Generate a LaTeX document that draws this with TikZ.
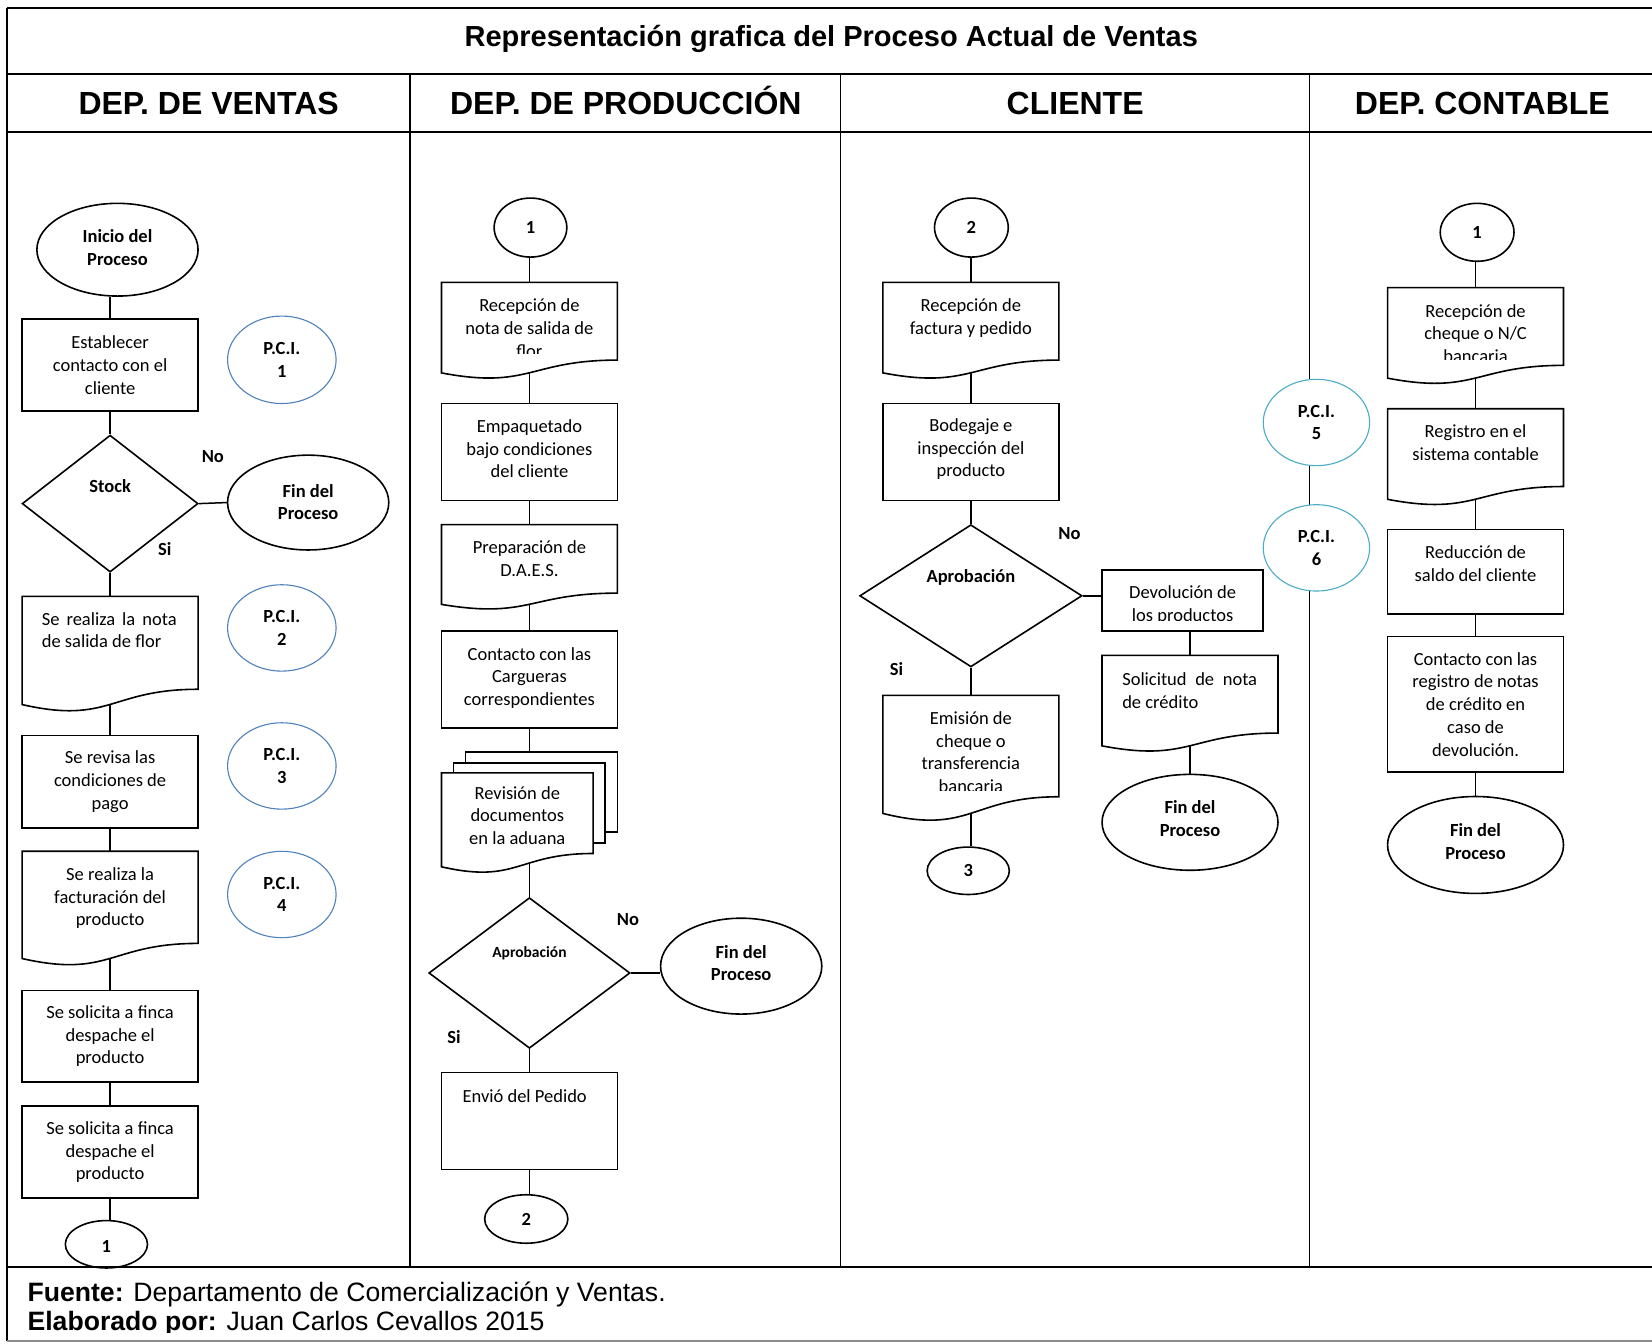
\documentclass[tikz,border=0pt]{standalone}
\usepackage{fontspec}
\setmainfont{Carlito}
\newfontfamily\arialfont{Liberation Sans}
\usetikzlibrary{shapes.geometric,calc}

\definecolor{pciblue}{RGB}{79,129,189}
\definecolor{pciteal}{RGB}{75,172,198}

% one drawing unit = 1.0536pt
\newcommand{\pxu}{1.0536pt}
\newcommand{\ntxt}{\fontsize{18.5}{22.7}\selectfont}
\newcommand{\ntxtb}{\fontsize{18.5}{22.7}\selectfont\bfseries}

% document symbol: name, left x, top y, width, height
\newcommand{\docshape}[5]{%
  \node[inner sep=0, minimum width=#4*\pxu, minimum height=#5*\pxu] (#1) at ({#2+#4/2},{#3+#5/2}) {};
  \draw[shapeline] (#2,#3) -- ({#2+#4},#3) -- ({#2+#4},{#3+0.802*#5})
    .. controls ({#2+#4/2},{#3+0.802*#5}) and ({#2+#4/2},{#3+1.107*#5}) .. (#2,{#3+0.934*#5}) -- cycle;
  \coordinate (#1-b) at ({#2+#4/2},{#3+0.933*#5});
}

\tikzset{
  frameline/.style={line width=2pt},
  lane/.style={line width=1.4pt},
  link/.style={line width=1.5pt},
  shapeline/.style={line width=1.6pt},
  proc/.style={draw, rectangle, line width=1.6pt, inner sep=0, align=center, font=\ntxt},
  term/.style={draw, ellipse, line width=1.6pt, inner sep=0, align=center, font=\ntxtb},
  pci/.style={draw=#1, ellipse, line width=1.1pt, fill=white, inner sep=0, align=center, font=\ntxtb},
  decision/.style={draw, diamond, line width=1.6pt, inner sep=0},
  lbl/.style={inner sep=0, align=center, font=\ntxtb},
  txtnode/.style={inner sep=0, align=center, font=\ntxt},
  sz/.style 2 args={minimum width=#1*\pxu, minimum height=#2*\pxu},
}

\begin{document}
\begin{tikzpicture}[x=1.0536pt, y=-1.0536pt]
\useasboundingbox (0,0) rectangle (1568,1275);

% ---------- frame, title and lanes ----------
\draw[frameline] (7,8) -- (1575,8);
\draw[frameline] (7,8) -- (7,1273);
\draw[frameline] (7,70) -- (1575,70);
\draw[frameline] (7,125) -- (1575,125);
\draw[frameline] (7,1203) -- (1575,1203);
\draw[line width=1.6pt, black!45] (7,1273) -- (1575,1273);
\draw[lane] (389,70) -- (389,1203);
\draw[lane] (798,70) -- (798,1203);
\draw[lane] (1243,70) -- (1243,1203);

\node[inner sep=0, anchor=base, font=\arialfont\bfseries\fontsize{29}{34}\selectfont] (title) at (789,44.5)
  {Representación grafica del Proceso Actual de Ventas};
\tikzset{lanehead/.style={inner sep=0, anchor=base, font=\arialfont\bfseries\fontsize{32}{38}\selectfont}}
\node[lanehead] (h1) at (198,108.4) {DEP. DE VENTAS};
\node[lanehead] (h2) at (594,108.4) {DEP. DE PRODUCCIÓN};
\node[lanehead] (h3) at (1020.5,108.4) {CLIENTE};
\node[lanehead] (h4) at (1407,108.4) {DEP. CONTABLE};

% ---------- DEP. DE VENTAS ----------
\node[term, sz={153}{88}] (e_ini) at (111.5,237) {};
\node[lbl] (t_ini) at (111.5,235) {Inicio del\\Proceso};
\node[proc, sz={167}{87}] (r_est) at (104.5,346.5) {Establecer\\contacto con el\\cliente};
\node[pci=pciblue, sz={103}{83}] (pci1) at (267.5,341.5) {P.C.I.\\1};
\node[decision, sz={167}{130}] (d_stock) at (104.5,478) {};
\node[lbl] (t_stock) at (104.5,461) {Stock};
\node[lbl] (no1) at (202,433) {No};
\node[lbl] (si1) at (156.5,521) {Si};
\node[term, sz={153}{90}] (e_fin1) at (292.5,477) {};
\node[lbl] (t_fin1) at (292.5,476.5) {Fin del\\Proceso};
\docshape{doc_nota}{21}{566}{167}{110}
\node[txtnode, align=left, anchor=west] (t_nota) at (39.5,598)
  {\makebox[134.9pt][s]{Se realiza la nota}\\de salida de flor};
\node[pci=pciblue, sz={103}{82}] (pci2) at (267.5,596) {P.C.I.\\2};
\node[proc, sz={167}{88}] (r_rev) at (104.5,742) {Se revisa las\\condiciones de\\pago};
\node[pci=pciblue, sz={103}{82}] (pci3) at (267.5,727) {P.C.I.\\3};
\docshape{doc_fact}{21}{808}{167}{109}
\node[txtnode] (t_fact) at (104.5,852.5) {Se realiza la\\facturación del\\producto};
\node[pci=pciblue, sz={103}{82}] (pci4) at (267.5,849) {P.C.I.\\4};
\node[proc, sz={167}{87}] (r_fin1) at (104.5,983.5) {Se solicita a finca\\despache el\\producto};
\node[proc, sz={167}{87}] (r_fin2) at (104.5,1093.5) {Se solicita a finca\\despache el\\producto};
\node[term, sz={78}{45}] (c1a) at (101,1181) {};
\node[lbl] (t_c1a) at (101,1183) {1};

\draw[link] (r_est.north) -- (r_est.north |- e_ini.south);
\draw[link] (r_est.south) -- (d_stock.north);
\draw[link] (d_stock.east) -- (e_fin1.west);
\draw[link] (d_stock.south) -- (doc_nota.north);
\draw[link] (doc_nota-b) -- (r_rev.north);
\draw[link] (r_rev.south) -- (doc_fact.north);
\draw[link] (doc_fact-b) -- (r_fin1.north);
\draw[link] (r_fin1.south) -- (r_fin2.north);
\draw[link] (r_fin2.south) -- (r_fin2.south |- c1a.north);

% ---------- DEP. DE PRODUCCION ----------
\node[term, sz={69}{56}] (c1b) at (503.5,216) {1};
\docshape{doc_rec1}{419}{268}{167}{92}
\begin{scope}
  \clip (419,268) rectangle (586,335.5);
  \node[txtnode] (t_rec1) at (502.5,311.5) {Recepción de\\nota de salida de\\flor};
\end{scope}
\node[proc, sz={167}{92}] (r_emp) at (502.5,429) {};
\node[txtnode] (t_emp) at (502.5,426) {Empaquetado\\bajo condiciones\\del cliente};
\docshape{doc_daes}{419}{498}{167}{81}
\node[txtnode] (t_daes) at (502.5,530) {Preparación de\\D.A.E.S.};
\node[proc, sz={167}{92}] (r_car) at (502.5,645) {};
\node[txtnode] (t_car) at (502.5,643.5) {Contacto con las\\Cargueras\\correspondientes};
% stacked documents
\coordinate (md-in) at (502.5,714);
\draw[shapeline] (442,724) -- (442,714) -- (586,714) -- (586,789.5) -- (574,789.5);
\draw[shapeline] (430.5,733.5) -- (430.5,724) -- (574,724) -- (574,800) -- (563,800);
\docshape{md1}{419}{733.5}{144}{95.5}
\coordinate (md-out) at (502.5,819.3);
\node[txtnode] (t_md) at (491,774) {Revisión de\\documentos\\en la aduana};
\node[decision, sz={191}{143}] (d_apr2) at (502.5,923.5) {};
\node[inner sep=0, font=\fontsize{15.5}{19}\selectfont\bfseries] (t_apr2) at (502.5,905) {Aprobación};
\node[lbl] (no2) at (596,873) {No};
\node[lbl] (si2) at (431,984) {Si};
\node[term, sz={153}{91}] (e_fin2) at (703.5,917) {};
\node[lbl] (t_fin2) at (703.5,914) {Fin del\\Proceso};
\node[proc, sz={167}{92}] (r_env) at (502.5,1064) {};
\node[txtnode] (t_env) at (498,1040) {Envió del Pedido};
\node[term, sz={79}{46}] (c2a) at (499.5,1157) {2};

\draw[link] (doc_rec1.north) -- (doc_rec1.north |- c1b.south);
\draw[link] (doc_rec1-b) -- (r_emp.north);
\draw[link] (r_emp.south) -- (doc_daes.north);
\draw[link] (doc_daes-b) -- (r_car.north);
\draw[link] (r_car.south) -- (md-in);
\draw[link] (md-out) -- (d_apr2.north);
\draw[link] (d_apr2.east) -- (d_apr2.east -| e_fin2.west);
\draw[link] (d_apr2.south) -- (r_env.north);
\draw[link] (r_env.south) -- (r_env.south |- c2a.north);

% ---------- CLIENTE ----------
\node[term, sz={70}{56}] (c2b) at (922,216) {2};
\docshape{doc_rec2}{838}{268}{167}{92}
\node[txtnode] (t_rec2) at (921.5,302) {Recepción de\\factura y pedido};
\node[proc, sz={167}{92}] (r_bod) at (921.5,429) {};
\node[txtnode] (t_bod) at (921.5,426.5) {Bodegaje e\\inspección del\\producto};
\node[decision, sz={211}{135}] (d_apr3) at (921.5,565.5) {};
\node[lbl] (t_apr3) at (921.5,548.5) {Aprobación};
\node[lbl] (no3) at (1015,506) {No};
\node[lbl] (si3) at (851,635) {Si};
\node[proc, sz={153}{58}] (r_dev) at (1122.5,570) {};
\begin{scope}
  \clip (1046,541) rectangle (1199,588.5);
  \node[txtnode] (t_dev) at (1122.5,574.5) {Devolución de\\los productos};
\end{scope}
\docshape{doc_sol}{1046}{622}{167}{92}
\node[txtnode, align=left, anchor=west] (t_sol) at (1065,655.5)
  {\makebox[134.9pt][s]{Solicitud de nota}\\de crédito};
\node[term, sz={167}{91}] (e_fin3) at (1129.5,780.5) {};
\node[lbl] (t_fin3) at (1129.5,777) {Fin del\\Proceso};
\docshape{doc_emi}{838}{660}{167}{120}
\begin{scope}
  \clip (838,660) rectangle (1005,750);
  \node[txtnode] (t_emi) at (921.5,714) {Emisión de\\cheque o\\transferencia\\bancaria};
\end{scope}
\node[term, sz={78}{45}] (c3) at (919,826.5) {3};

\draw[link] (doc_rec2.north) -- (doc_rec2.north |- c2b.south);
\draw[link] (doc_rec2-b) -- (r_bod.north);
\draw[link] (r_bod.south) -- (d_apr3.north);
\draw[link] (d_apr3.east) -- (d_apr3.east -| r_dev.west);
\draw[link] (doc_sol.north) -- (doc_sol.north |- r_dev.south);
\draw[link] (doc_sol-b) -- (e_fin3.north);
\draw[link] (d_apr3.south) -- (doc_emi.north);
\draw[link] (doc_emi-b) -- (doc_emi-b |- c3.north);

% ---------- DEP. CONTABLE ----------
\node[pci=pciteal, sz={101}{82}] (pci5) at (1249.5,401) {P.C.I.\\5};
\node[pci=pciteal, sz={101}{82}] (pci6) at (1249.5,520) {P.C.I.\\6};
\node[term, sz={70}{55}] (c1c) at (1402,220.5) {1};
\docshape{doc_che}{1317}{273}{167}{92}
\begin{scope}
  \clip (1317,273) rectangle (1484,341);
  \node[txtnode] (t_che) at (1400.5,316.5) {Recepción de\\cheque o N/C\\bancaria};
\end{scope}
\docshape{doc_reg}{1317}{388}{167}{92}
\node[txtnode] (t_reg) at (1400.5,420) {Registro en el\\sistema contable};
\node[proc, sz={167}{80}] (r_red) at (1400.5,542.5) {};
\node[txtnode] (t_red) at (1400.5,535) {Reducción de\\saldo del cliente};
\node[proc, sz={167}{129}] (r_con) at (1400.5,668.5)
  {Contacto con las\\registro de notas\\de crédito en\\caso de\\devolución.};
\node[term, sz={167}{92}] (e_fin4) at (1400.5,802) {};
\node[lbl] (t_fin4) at (1400.5,799) {Fin del\\Proceso};

\draw[link] (doc_che.north) -- (doc_che.north |- c1c.south);
\draw[link] (doc_che-b) -- (doc_reg.north);
\draw[link] (doc_reg-b) -- (r_red.north);
\draw[link] (r_red.south) -- (r_con.north);
\draw[link] (r_con.south) -- (e_fin4.north);

% ---------- footer ----------
\tikzset{foot/.style={inner sep=0, anchor=base west, font=\arialfont\fontsize{26.6}{30}\selectfont}}
\node[foot] (f1) at (26,1235.5) {\textbf{Fuente:} Departamento de Comercialización y Ventas.};
\begin{scope}
  \clip (20,1240) rectangle (1000,1264.5);
  \node[foot] (f2) at (26,1263) {\textbf{Elaborado por:} Juan Carlos Cevallos 2015};
\end{scope}
\end{tikzpicture}
\end{document}
